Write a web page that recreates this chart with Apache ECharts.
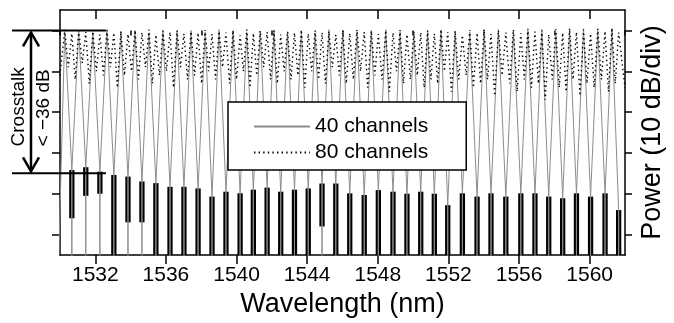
<!DOCTYPE html>
<html>
<head>
<meta charset="utf-8">
<script src="https://cdn.jsdelivr.net/npm/echarts@6/dist/echarts.min.js"></script>
<style>html,body{margin:0;padding:0;background:#fff}#c{width:674px;height:323px}</style>
</head>
<body>
<div id="c"></div>
<script>
// ---- data ----
const xTickLabels = [1532, 1536, 1540, 1544, 1548, 1552, 1556, 1560];
const xMinorTicks = [1530, 1534, 1538, 1542, 1546, 1550, 1554, 1558, 1562];
const yTicks = [-50, -40, -30, -20, -10, 0];

// 40-channel spectrum: passband centres (nm) and peak levels (dB)
const passCenters40 = [1530.27,1531.06,1531.86,1532.66,1533.45,1534.25,1535.04,1535.83,1536.63,1537.42,
  1538.22,1539.01,1539.80,1540.58,1541.34,1542.12,1542.89,1543.67,1544.45,1545.23,
  1546.02,1546.82,1547.63,1548.45,1549.26,1550.04,1550.82,1551.58,1552.38,1553.21,
  1554.02,1554.83,1555.68,1556.50,1557.29,1558.08,1558.86,1559.65,1560.46,1561.26];
const passPeaks40 = [-0.3,0,-0.5,0.2,-0.2,0,-0.6,0.1,-0.3,0,
  -0.4,0.2,0,-0.5,-0.2,0.1,-0.3,0,-0.6,0.2,
  -0.1,-0.4,0,0.2,-0.3,-0.5,0,0.1,-0.2,-0.4,
  0,0.3,-0.2,0,0.2,-0.3,0.1,0.4,0,0.3];
// inter-channel crosstalk regions: centre (nm), top of noise (dB), bottom of dense noise (dB)
const gapCenters40 = [1530.67,1531.46,1532.26,1533.05,1533.85,1534.64,1535.43,1536.23,1537.02,1537.82,
  1538.61,1539.40,1540.20,1540.95,1541.73,1542.50,1543.28,1544.06,1544.84,1545.62,
  1546.41,1547.23,1548.03,1548.86,1549.65,1550.43,1551.20,1551.96,1552.79,1553.62,
  1554.41,1555.25,1556.10,1556.90,1557.68,1558.47,1559.25,1560.05,1560.87,1561.64];
const gapTops40 = [-34.2,-33.5,-34.6,-35.4,-35.8,-37.0,-37.4,-38.3,-38.3,-38.7,
  -40.7,-39.5,-39.9,-39.0,-38.5,-39.5,-39.0,-38.7,-37.5,-37.5,
  -39.9,-40.3,-39.1,-39.5,-40.0,-39.5,-40.0,-42.8,-39.9,-40.7,
  -39.9,-40.7,-39.9,-39.9,-40.7,-41.1,-39.9,-40.7,-39.9,-44.0];
const gapBottoms40 = [-46,-40.5,-40,-60,-47,-47,-60,-60,-60,-60,
  -60,-60,-60,-60,-60,-60,-60,-60,-48,-60,
  -60,-60,-60,-60,-60,-60,-60,-60,-60,-60,
  -60,-60,-60,-60,-60,-60,-60,-60,-60,-60];

// 80-channel spectrum: peak levels (dB) at the interleaved channel positions, and dips between them (dB)
const peaks80 = [0.2,-0.8,0,-0.4,-0.3,-1.0,0.1,-0.6,-0.2,-0.9,0,-0.5,0.2,-1.1,-0.1,-0.4,0,-0.8,-0.3,-0.6,
  0.1,-0.9,-0.2,-0.5,0,-1.2,0.2,-0.7,-0.1,-0.4,0,-1.0,-0.3,-0.6,0.1,-0.8,0,-0.5,-0.2,-1.1,
  0,-0.7,0.2,-0.4,-0.1,-0.9,0,-0.6,0.1,-1.0,-0.2,-0.5,0,-0.8,0.2,-0.4,-0.1,-1.2,0,-0.6,
  0.3,-0.9,0,-0.5,0.2,-0.7,0.4,-0.3,0,-1.0,0.3,-0.6,0.5,-0.4,0.2,-0.8,0.4,-0.2,0.6,-0.5];
const dips80 = [-11,
  -9,-12,-8,-13,-10,-11,-9,-14,-11,-10,
  -12,-9,-13,-11,-10,-14,-9,-12,-11,-13,
  -10,-12,-9,-13,-12,-10,-14,-11,-9,-12,
  -13,-10,-12,-11,-14,-10,-12,-13,-9,-11,
  -13,-12,-10,-14,-11,-12,-15,-10,-13,-12,
  -11,-14,-12,-13,-10,-15,-12,-11,-14,-13,
  -12,-16,-11,-13,-15,-12,-14,-13,-17,-12,
  -14,-15,-12,-16,-13,-14,-12,-15,-13,-14];

const FLOOR = -60;          // below the visible range
const crosstalkLevel = -35; // annotation line
const xMin = 1530, xMax = 1562, yMin = -55, yMax = 5;

// ---- build traces ----
const solid = [[1529.9, FLOOR]];
passCenters40.forEach((c, k) => {
  solid.push([c, passPeaks40[k]]);
  solid.push([gapCenters40[k], gapTops40[k]]);
  solid.push([gapCenters40[k], FLOOR]);
  solid.push([gapCenters40[k], gapTops40[k]]);
});

const ch80 = [];
passCenters40.forEach((c, k) => { ch80.push(c); ch80.push(gapCenters40[k]); });
const dotted = [[xMin, dips80[0]]];
ch80.forEach((x, i) => {
  dotted.push([x, peaks80[i]]);
  const nx = i < ch80.length - 1 ? (x + ch80[i + 1]) / 2 : xMax;
  dotted.push([nx, dips80[i + 1]]);
});

const clusters = gapCenters40.map((c, k) => [c, gapTops40[k], gapBottoms40[k]]);

const FONT = 'Liberation Sans, Arial, Helvetica, sans-serif';
const black = '#000';
const axLine = { show: true, onZero: false, lineStyle: { color: black, width: 1.5 } };
const tickStyle = { color: black, width: 1.5 };

const chart = echarts.init(document.getElementById('c'), null, { renderer: 'canvas' });
const option = {
  animation: false,
  backgroundColor: '#fff',
  grid: { left: 60, right: 43, top: 10, bottom: 68, containLabel: false },
  legend: {
    data: ['40 channels', '80 channels'],
    orient: 'vertical', left: 228, top: 102,
    itemWidth: 56, itemHeight: 14, itemGap: 5,
    padding: [14, 38, 7, 25],
    backgroundColor: '#fff', borderColor: black, borderWidth: 1.5, borderRadius: 0,
    selectedMode: false,
    itemStyle: { color: 'transparent', borderColor: 'transparent', borderWidth: 0, opacity: 0 },
    textStyle: { fontFamily: FONT, fontSize: 21, color: black }
  },
  xAxis: [
    { type: 'value', min: xMin, max: xMax, interval: 2, position: 'bottom',
      axisLine: axLine,
      axisTick: { show: true, customValues: xTickLabels, length: 9, inside: false, lineStyle: tickStyle },
      axisLabel: { show: true, customValues: xTickLabels, margin: 10, formatter: v => String(v),
        fontFamily: FONT, fontSize: 21, color: black },
      splitLine: { show: false },
      name: 'Wavelength (nm)', nameLocation: 'middle', nameGap: 35,
      nameTextStyle: { fontFamily: FONT, fontSize: 27, color: black } },
    { type: 'value', min: xMin, max: xMax, interval: 2, position: 'bottom',
      axisLine: { show: false },
      axisTick: { show: true, customValues: xMinorTicks, length: 5, inside: false, lineStyle: tickStyle },
      axisLabel: { show: false }, splitLine: { show: false } },
    { type: 'value', min: xMin, max: xMax, interval: 2, position: 'top',
      axisLine: axLine,
      axisTick: { show: true, customValues: xTickLabels, length: 9, inside: true, lineStyle: tickStyle },
      axisLabel: { show: false }, splitLine: { show: false } },
    { type: 'value', min: xMin, max: xMax, interval: 2, position: 'top',
      axisLine: { show: false },
      axisTick: { show: true, customValues: xMinorTicks, length: 5, inside: true, lineStyle: tickStyle },
      axisLabel: { show: false }, splitLine: { show: false } }
  ],
  yAxis: [
    { type: 'value', min: yMin, max: yMax, position: 'left',
      axisLine: axLine,
      axisTick: { show: true, customValues: yTicks, length: 8, inside: false, lineStyle: tickStyle },
      axisLabel: { show: false }, splitLine: { show: false } },
    { type: 'value', min: yMin, max: yMax, position: 'right',
      axisLine: axLine,
      axisTick: { show: true, customValues: yTicks, length: 7, inside: false, lineStyle: tickStyle },
      axisLabel: { show: false }, splitLine: { show: false },
      name: 'Power (10 dB/div)', nameLocation: 'middle', nameRotate: 90, nameGap: 14,
      nameTextStyle: { fontFamily: FONT, fontSize: 27, color: black } }
  ],
  series: [
    { name: '40 channels', type: 'line', xAxisIndex: 0, yAxisIndex: 0, data: solid,
      symbol: 'none', clip: true, lineStyle: { color: '#8c8c8c', width: 1 }, itemStyle: { color: '#8c8c8c' } },
    { name: 'crosstalk', type: 'custom', xAxisIndex: 0, yAxisIndex: 0, data: clusters, clip: true,
      encode: { x: 0, y: [1, 2] },
      renderItem: (params, api) => {
        const c = api.value(0), t = api.value(1), b = api.value(2);
        const p1 = api.coord([c - 0.15, t]);
        const p2 = api.coord([c + 0.15, b]);
        return { type: 'rect', shape: { x: p1[0], y: p1[1], width: p2[0] - p1[0], height: p2[1] - p1[1] },
          style: { fill: black } };
      } },
    { name: '80 channels', type: 'line', xAxisIndex: 0, yAxisIndex: 0, data: dotted,
      symbol: 'none', clip: true, lineStyle: { color: black, width: 1.4, type: [1.4, 3.2] }, itemStyle: { color: black } }
  ]
};
chart.setOption(option);

// ---- crosstalk annotation ----
const y0 = chart.convertToPixel({ yAxisIndex: 0 }, 0);
const yc = chart.convertToPixel({ yAxisIndex: 0 }, crosstalkLevel);
const xe = chart.convertToPixel({ xAxisIndex: 0 }, 1532.6);
const ax = 31;
const ym = (y0 + yc) / 2 + 5;
chart.setOption({
  graphic: [
    { type: 'line', shape: { x1: 12, y1: y0, x2: xe, y2: y0 }, style: { stroke: black, lineWidth: 2 }, z: 100 },
    { type: 'line', shape: { x1: 12, y1: yc, x2: xe, y2: yc }, style: { stroke: black, lineWidth: 2 }, z: 100 },
    { type: 'line', shape: { x1: ax, y1: y0 + 2, x2: ax, y2: yc - 2 }, style: { stroke: black, lineWidth: 2.5 }, z: 100 },
    { type: 'polyline', shape: { points: [[ax - 8, y0 + 16], [ax, y0 + 2], [ax + 8, y0 + 16]] },
      style: { stroke: black, lineWidth: 2.5, fill: null }, z: 100 },
    { type: 'polyline', shape: { points: [[ax - 8, yc - 16], [ax, yc - 2], [ax + 8, yc - 16]] },
      style: { stroke: black, lineWidth: 2.5, fill: null }, z: 100 },
    { type: 'text', x: 18.5, y: ym, rotation: Math.PI / 2,
      style: { text: 'Crosstalk', font: '19px ' + FONT, fill: black, align: 'center', verticalAlign: 'middle' }, z: 100 },
    { type: 'text', x: 43.5, y: ym + 1, rotation: Math.PI / 2,
      style: { text: '< \u221236 dB', font: '19px ' + FONT, fill: black, align: 'center', verticalAlign: 'middle' }, z: 100 }
  ]
});
</script>
</body>
</html>
